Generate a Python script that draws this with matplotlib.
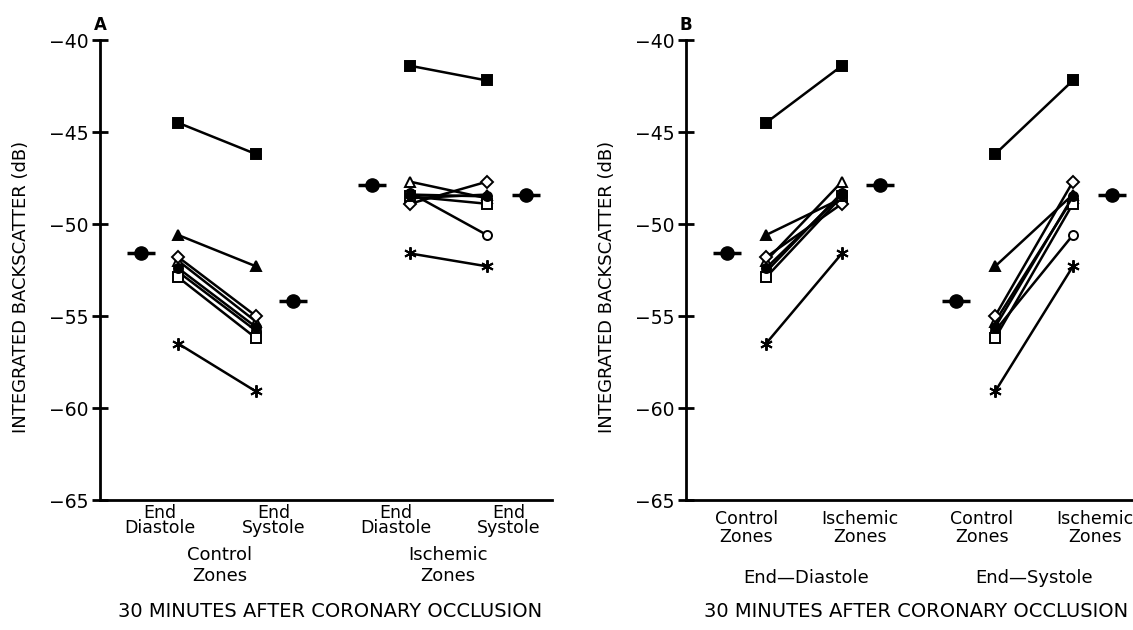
import matplotlib.pyplot as plt
from matplotlib.transforms import blended_transform_factory

# integrated backscatter (dB) per animal, 30 min after occlusion
animal_marker = ["s", "^", "^", "D", "o", "s", "o", (6, 2, 0)]
animal_filled = [True, True, False, False, False, False, True, True]
ctrl_ed = [-44.5, -50.6, -52.0, -51.8, -52.6, -52.9, -52.4, -56.5]
ctrl_es = [-46.2, -52.3, -55.3, -55.0, -55.8, -56.2, -55.6, -59.1]
isch_ed = [-41.4, -48.6, -47.7, -48.9, -48.3, -48.5, -48.4, -51.6]
isch_es = [-42.2, -48.4, -48.6, -47.7, -50.6, -48.9, -48.5, -52.3]

# group means
mean_ctrl_ed = -51.6
mean_ctrl_es = -54.2
mean_isch_ed = -47.9
mean_isch_es = -48.4

yticks = [-40, -45, -50, -55, -60, -65]

plt.rcParams["font.family"] = ["DejaVu Sans"]
FS = 13

fig = plt.figure(figsize=(11.33, 6.3), dpi=100)
axA = fig.add_axes([100 / 1133, 130 / 630, 452 / 1133, 460 / 630])
axB = fig.add_axes([686 / 1133, 130 / 630, 452 / 1133, 460 / 630])


def style_axis(ax, letter):
    ax.set_xlim(0, 10)
    ax.set_ylim(-65, -40)
    for s in ["top", "right"]:
        ax.spines[s].set_visible(False)
    for s in ["left", "bottom"]:
        ax.spines[s].set_linewidth(2)
    ax.set_yticks(yticks)
    ax.set_yticklabels([f"\u2212{abs(v)}" for v in yticks], fontsize=13.5)
    ax.tick_params(axis="y", direction="inout", length=11, width=2, pad=3)
    ax.tick_params(axis="x", length=0, pad=3, labelsize=12.5)
    ax.set_ylabel("INTEGRATED BACKSCATTER (dB)", fontsize=FS)
    ax.yaxis.set_label_coords(-0.155, 0.463)
    ax.text(0, 1.012, letter, transform=ax.transAxes, fontsize=12,
            fontweight="bold", ha="center", va="bottom")
    ax.text(0.51, -0.243, "30 MINUTES AFTER CORONARY OCCLUSION",
            transform=ax.transAxes, fontsize=14, ha="center", va="center")


def pairs(ax, x0, x1, y0, y1):
    for m, f, a, b in zip(animal_marker, animal_filled, y0, y1):
        ms = 9 if f and isinstance(m, tuple) else 6.5
        ax.plot([x0, x1], [a, b], color="black", lw=1.8, marker=m, ms=ms,
                mec="black", mew=1.4, mfc="black" if f else "white",
                clip_on=False, zorder=3)


def mean_mark(ax, x, y):
    ax.plot([x], [y], marker="_", ms=20, mew=2.5, color="black", zorder=4)
    ax.plot([x], [y], marker="o", ms=9.5, color="black", zorder=5)


tick_x = [1.33, 3.85, 6.55, 9.05]
group_x = [2.65, 7.7]

# panel A: control / ischemic zones, ED vs ES
style_axis(axA, "A")
pairs(axA, 1.73, 3.45, ctrl_ed, ctrl_es)
pairs(axA, 6.86, 8.56, isch_ed, isch_es)
mean_mark(axA, 0.9, mean_ctrl_ed)
mean_mark(axA, 4.27, mean_ctrl_es)
mean_mark(axA, 6.02, mean_isch_ed)
mean_mark(axA, 9.42, mean_isch_es)
axA.set_xticks(tick_x)
axA.set_xticklabels(["End\nDiastole", "End\nSystole", "End\nDiastole", "End\nSystole"],
                    linespacing=0.8)
trA = blended_transform_factory(axA.transData, axA.transAxes)
for gx, lab in zip(group_x, ["Control\nZones", "Ischemic\nZones"]):
    axA.text(gx, -0.143, lab, transform=trA, fontsize=FS, ha="center",
             va="center", linespacing=1.2)

# panel B: ED / ES, control vs ischemic
style_axis(axB, "B")
pairs(axB, 1.77, 3.45, ctrl_ed, isch_ed)
pairs(axB, 6.84, 8.56, ctrl_es, isch_es)
mean_mark(axB, 0.91, mean_ctrl_ed)
mean_mark(axB, 4.29, mean_isch_ed)
mean_mark(axB, 5.97, mean_ctrl_es)
mean_mark(axB, 9.42, mean_isch_es)
axB.set_xticks(tick_x)
axB.set_xticklabels(["Control\nZones", "Ischemic\nZones", "Control\nZones", "Ischemic\nZones"],
                    linespacing=1.05)
axB.tick_params(axis="x", pad=7)
trB = blended_transform_factory(axB.transData, axB.transAxes)
for gx, lab in zip(group_x, ["End\u2014Diastole", "End\u2014Systole"]):
    axB.text(gx, -0.17, lab, transform=trB, fontsize=FS, ha="center",
             va="center")

fig.savefig("out.png", dpi=100)
